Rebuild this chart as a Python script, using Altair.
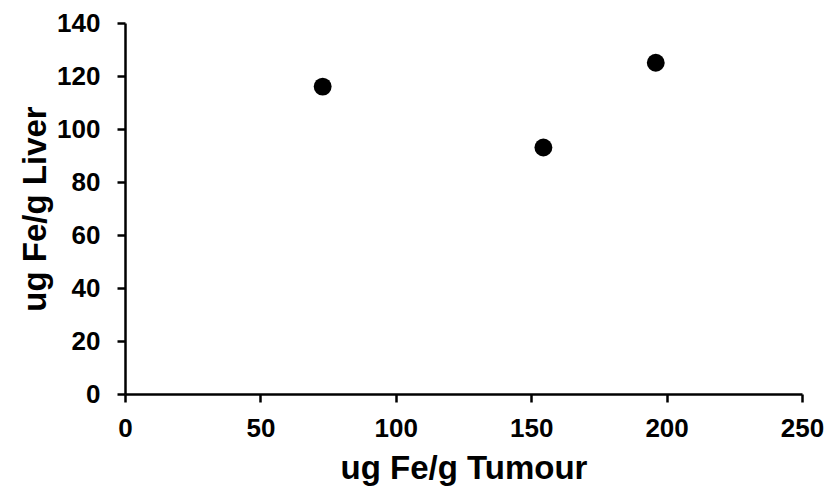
import altair as alt
import pandas as pd

tumour = [73, 154.5, 196]
liver = [116, 93, 125]

df = pd.DataFrame({"tumour": tumour, "liver": liver})

font = "Liberation Sans"

chart = alt.Chart(df).mark_circle(size=320, color="black", opacity=1).encode(
    x=alt.X("tumour:Q", scale=alt.Scale(domain=[0, 250], nice=False),
            axis=alt.Axis(title="ug Fe/g Tumour", values=[0, 50, 100, 150, 200, 250],
                          labelPadding=13, titlePadding=11)),
    y=alt.Y("liver:Q", scale=alt.Scale(domain=[0, 140], nice=False),
            axis=alt.Axis(title="ug Fe/g Liver", values=[0, 20, 40, 60, 80, 100, 120, 140],
                          labelPadding=17, titlePadding=4)),
).properties(
    width=677, height=371,
    autosize=alt.AutoSizeParams(type="none"),
    padding={"left": 125, "top": 23, "right": 25, "bottom": 97},
).configure_view(stroke=None).configure_axis(
    grid=False,
    domainColor="black", domainWidth=2.5,
    tickColor="black", tickWidth=2.5, tickSize=8,
    labelFont=font, labelFontSize=26, labelFontWeight="bold", labelColor="black",
    labelFlush=False,
    titleFont=font, titleFontSize=33, titleFontWeight="bold", titleColor="black",
)

chart.save("out.html", embed_options={"renderer": "svg", "actions": False})
